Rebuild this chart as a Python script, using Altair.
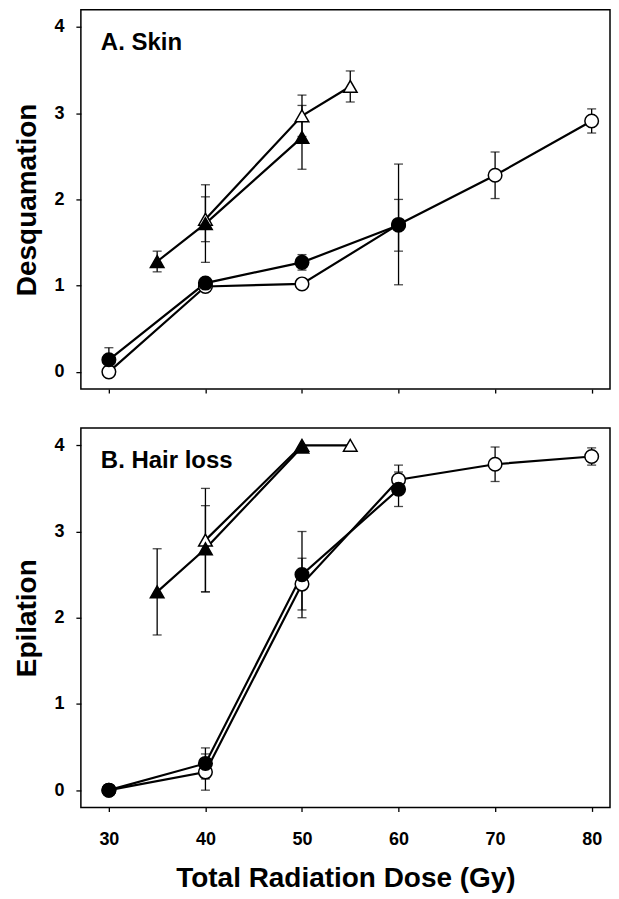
import altair as alt
import pandas as pd

# ---- data ----
series_names = ["open_circle", "open_triangle", "filled_circle", "filled_triangle"]
series_fill = {"open_circle": "open", "open_triangle": "open",
               "filled_circle": "filled", "filled_triangle": "filled"}
series_shape = {"open_circle": "circle", "open_triangle": "triangle",
                "filled_circle": "circle", "filled_triangle": "triangle"}

# Panel A: Skin (Desquamation)
skin_open_circle_dose = [30, 40, 50, 60, 70, 80]
skin_open_circle_val = [0.0, 0.99, 1.02, 1.71, 2.28, 2.91]
skin_open_circle_err = [0.05, 0.03, 0.03, 0.70, 0.27, 0.14]

skin_open_triangle_dose = [40, 50, 55]
skin_open_triangle_val = [1.77, 2.97, 3.31]
skin_open_triangle_err = [0.26, 0.24, 0.18]

skin_filled_circle_dose = [30, 40, 50, 60]
skin_filled_circle_val = [0.14, 1.03, 1.27, 1.70]
skin_filled_circle_err = [0.14, 0.04, 0.09, 0.30]

skin_filled_triangle_dose = [35, 40, 50]
skin_filled_triangle_val = [1.28, 1.72, 2.72]
skin_filled_triangle_err = [0.12, 0.45, 0.37]

# Panel B: Hair loss (Epilation)
hair_open_circle_dose = [30, 40, 50, 60, 70, 80]
hair_open_circle_val = [0.0, 0.21, 2.39, 3.60, 3.78, 3.87]
hair_open_circle_err = [0.0, 0.21, 0.30, 0.17, 0.20, 0.10]

hair_open_triangle_dose = [40, 50, 55]
hair_open_triangle_val = [2.90, 4.00, 4.00]
hair_open_triangle_err = [0.60, 0.0, 0.0]

hair_filled_circle_dose = [30, 40, 50, 60]
hair_filled_circle_val = [0.0, 0.31, 2.50, 3.49]
hair_filled_circle_err = [0.0, 0.18, 0.50, 0.20]

hair_filled_triangle_dose = [35, 40, 50]
hair_filled_triangle_val = [2.30, 2.80, 3.98]
hair_filled_triangle_err = [0.50, 0.50, 0.0]

x_ticks = [30, 40, 50, 60, 70, 80]
y_ticks = [0, 1, 2, 3, 4]


def build(prefix):
    rows = []
    g = globals()
    for s in series_names:
        d = g[f"{prefix}_{s}_dose"]
        v = g[f"{prefix}_{s}_val"]
        e = g[f"{prefix}_{s}_err"]
        for i in range(len(d)):
            rows.append({"dose": d[i], "value": v[i], "err": e[i],
                         "lo": v[i] - e[i], "hi": v[i] + e[i],
                         "series": s, "fill": series_fill[s],
                         "marker": series_shape[s]})
    return pd.DataFrame(rows)


FONT = "Liberation Sans"
W, H = 530, 380
XDOM = [27.1, 81.9]
YDOM = [-0.2, 4.2]


def panel(df, ytitle, label, bottom):
    if bottom:
        xaxis = alt.Axis(values=x_ticks, title="Total Radiation Dose (Gy)",
                         grid=False, domain=False, tickSize=4, labelPadding=19,
                         titlePadding=16, titleFontSize=28, labelFontSize=18)
    else:
        xaxis = alt.Axis(values=x_ticks, labels=False, title=None, grid=False,
                         domain=False, tickSize=4)
    x = alt.X("dose:Q", scale=alt.Scale(domain=XDOM, nice=False, zero=False), axis=xaxis)
    y = alt.Y("value:Q", scale=alt.Scale(domain=YDOM, nice=False, zero=False),
              axis=alt.Axis(values=y_ticks, format="d", title=ytitle, grid=False,
                            domain=False, tickSize=5, labelPadding=12,
                            titlePadding=12, titleFontSize=28, labelFontSize=18))
    base = alt.Chart(df)
    lines = base.mark_line(color="black", strokeWidth=2.2).encode(
        x=x, y=y, detail="series:N", order="dose:Q")
    eb = df[df["err"] > 0]
    ebase = alt.Chart(eb)
    rules = ebase.mark_rule(color="black", strokeWidth=1.3).encode(
        x="dose:Q", y="lo:Q", y2="hi:Q")
    cap_lo = ebase.mark_tick(color="black", orient="horizontal", size=9,
                             thickness=1.3).encode(x="dose:Q", y="lo:Q")
    cap_hi = ebase.mark_tick(color="black", orient="horizontal", size=9,
                             thickness=1.3).encode(x="dose:Q", y="hi:Q")
    pts = base.mark_point(filled=False, stroke="black", strokeWidth=1.5,
                          size=185, opacity=1).encode(
        x="dose:Q", y="value:Q",
        fill=alt.Fill("fill:N", scale=alt.Scale(domain=["filled", "open"],
                                                range=["black", "white"]), legend=None),
        shape=alt.Shape("marker:N", scale=alt.Scale(domain=["circle", "triangle"],
                                                    range=["circle", "triangle-up"]),
                        legend=None),
    )
    txt = alt.Chart(pd.DataFrame({"t": [label]})).mark_text(
        align="left", baseline="alphabetic", font=FONT, fontWeight="bold",
        fontSize=24, color="black").encode(
        text="t:N", x=alt.value(20), y=alt.value(40))
    return alt.layer(lines, rules, cap_lo, cap_hi, pts, txt).properties(
        width=W, height=H)


top = panel(build("skin"), "Desquamation", "A. Skin", False)
bot = panel(build("hair"), "Epilation", "B. Hair loss", True)

chart = alt.vconcat(top, bot, spacing=32).properties(
    padding={"left": 5, "top": 0, "right": 0, "bottom": 5}
).configure_view(stroke="black", strokeWidth=1.5).configure_axis(
    labelFont=FONT, titleFont=FONT, labelFontWeight="bold", titleFontWeight="bold",
    labelColor="black", titleColor="black", tickColor="black", tickWidth=1.3
)

chart.save("out.html", embed_options={"renderer": "svg", "actions": False})
